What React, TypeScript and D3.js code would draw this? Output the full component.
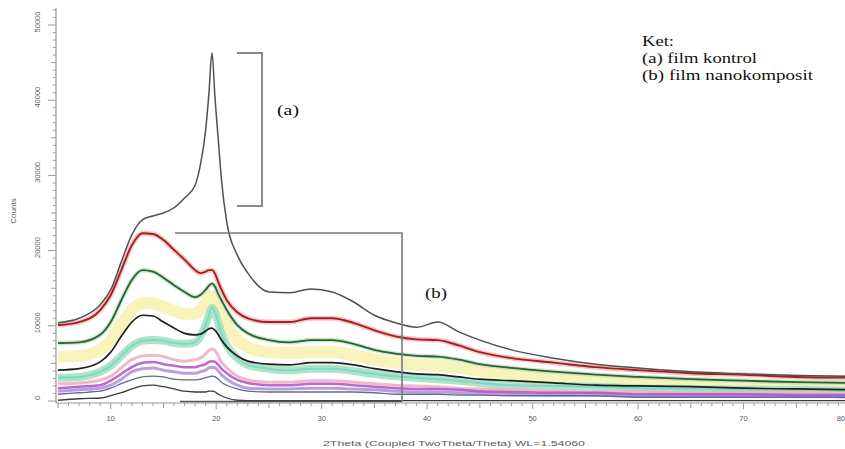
import React, { useEffect, useRef } from 'react';
import * as d3 from 'd3';

// 2theta sample positions (deg)
const twoTheta = [5, 7, 9, 10, 11, 12, 13, 14, 15, 16, 17, 18, 18.5, 19, 19.3, 19.6, 19.9, 20.2, 20.5, 21, 22, 23, 25, 27, 29, 31, 33, 35, 37, 39, 41, 43, 45, 48, 52, 56, 60, 65, 70, 75, 80];

// (a) film kontrol
const kontrol = [10400, 11000, 12800, 14800, 18500, 22100, 24100, 24600, 25000, 25700, 27000, 28700, 31400, 36000, 40700, 46300, 40000, 34700, 29400, 23800, 19400, 17000, 14500, 14400, 14900, 14500, 13200, 11400, 10400, 9800, 10500, 9200, 8100, 6800, 5700, 4900, 4400, 3900, 3600, 3400, 3300];

// (b) film nanokomposit series, top to bottom
const nanoRed = [10100, 10500, 12100, 14100, 17400, 20700, 22300, 22200, 21400, 20100, 18800, 17400, 17000, 17200, 17400, 17400, 16900, 15800, 14800, 13400, 11800, 11000, 10500, 10500, 11000, 11000, 10400, 9400, 8600, 8200, 8100, 7400, 6500, 5700, 5100, 4500, 4100, 3700, 3500, 3200, 3100];
const nanoGreen = [7700, 7800, 8800, 10500, 13400, 16100, 17400, 17200, 16400, 15400, 14500, 13800, 14100, 14800, 15300, 15600, 15200, 14200, 13400, 12100, 10100, 9000, 8100, 7800, 8100, 8100, 7600, 6800, 6300, 6000, 5900, 5500, 4900, 4400, 3900, 3500, 3200, 2900, 2700, 2500, 2400];
const nanoYellow = [5900, 6000, 6800, 8100, 10200, 12100, 13000, 13000, 12500, 12000, 11600, 11600, 12100, 13000, 13700, 14000, 13600, 12600, 11600, 10100, 8100, 7200, 6500, 6400, 6500, 6500, 6100, 5500, 5100, 4800, 4700, 4400, 4000, 3600, 3200, 2800, 2500, 2400, 2100, 2000, 2000];
const nanoBlack = [4100, 4300, 5200, 6500, 8600, 10500, 11400, 11300, 10500, 9700, 9000, 8800, 8900, 9300, 9600, 9700, 9400, 8800, 8100, 7200, 6000, 5300, 4900, 4800, 5100, 5100, 4800, 4300, 3900, 3600, 3500, 3200, 2900, 2700, 2400, 2100, 2000, 1900, 1700, 1600, 1500];
const nanoTeal = [3100, 3200, 3900, 4700, 6000, 7300, 8000, 8100, 8000, 7700, 7600, 7800, 8600, 10100, 11400, 12400, 11700, 10400, 9000, 7400, 5700, 4800, 4300, 4100, 4300, 4300, 4000, 3600, 3300, 3100, 2900, 2700, 2400, 2100, 2000, 1900, 1700, 1600, 1500, 1500, 1300];
const nanoPink = [2300, 2400, 2800, 3300, 4400, 5500, 6000, 6100, 5900, 5500, 5300, 5500, 5700, 6300, 6700, 6900, 6700, 6000, 5200, 4400, 3300, 2800, 2500, 2500, 2700, 2700, 2500, 2300, 2100, 2000, 1900, 1700, 1600, 1500, 1300, 1200, 1200, 1100, 1100, 1100, 900];
const nanoMagenta = [1700, 1900, 2100, 2700, 3600, 4500, 5100, 5200, 4900, 4700, 4500, 4500, 4700, 4900, 5200, 5300, 5200, 4800, 4300, 3700, 2800, 2400, 2100, 2100, 2300, 2300, 2100, 1900, 1700, 1600, 1600, 1500, 1300, 1200, 1100, 1100, 900, 900, 900, 800, 800];
const nanoViolet = [1300, 1500, 1700, 2100, 2900, 3900, 4300, 4400, 4100, 3900, 3700, 3700, 3900, 4100, 4400, 4500, 4400, 4000, 3500, 2900, 2100, 1700, 1600, 1600, 1700, 1700, 1600, 1500, 1300, 1200, 1200, 1100, 1100, 900, 800, 800, 700, 700, 700, 700, 500];
const nanoSlate = [900, 1100, 1300, 1700, 2300, 2800, 3200, 3300, 3200, 2900, 2800, 2800, 2900, 3100, 3200, 3300, 3200, 2900, 2500, 2100, 1600, 1300, 1200, 1200, 1200, 1200, 1200, 1100, 900, 900, 900, 800, 800, 700, 700, 700, 500, 500, 500, 500, 500];
const nanoBottom = [100, 300, 400, 700, 1100, 1600, 2000, 2100, 1900, 1600, 1300, 1200, 1200, 1200, 1300, 1300, 1200, 900, 700, 400, 100, 50, 50, 50, 50, 50, 50, 50, 50, 50, 50, 50, 50, 50, 50, 50, 50, 50, 50, 50, 50];

const xTickLabels = [10, 20, 30, 40, 50, 60, 70, 80];
const yTickLabels = [0, 10000, 20000, 30000, 40000, 50000];

// drawing order: pale bands first, dark lines last
const layers = [
  { values: nanoYellow, color: '#f6f2b4', width: 12, opacity: 0.9 },
  { values: nanoTeal, color: '#9fe0bc', width: 8, opacity: 0.85 },
  { values: nanoTeal, color: '#6fcfd0', width: 2, opacity: 0.7 },
  { values: nanoPink, color: '#eeb0c4', width: 3, opacity: 0.9 },
  { values: nanoViolet, color: '#b095dc', width: 3, opacity: 0.9 },
  { values: nanoMagenta, color: '#b24dc2', width: 2.5, opacity: 0.85 },
  { values: nanoSlate, color: '#62698c', width: 1.3, opacity: 1 },
  { values: nanoBottom, color: '#3a3a3a', width: 1.3, opacity: 1 },
  { values: nanoBlack, color: '#1e1e1e', width: 1.7, opacity: 1 },
  { values: nanoGreen, color: '#b4e0b4', width: 4.5, opacity: 0.7 },
  { values: nanoGreen, color: '#2e5f38', width: 1.8, opacity: 1 },
  { values: nanoRed, color: '#f2a8a8', width: 5, opacity: 0.65 },
  { values: nanoRed, color: '#a3201f', width: 1.9, opacity: 1 },
  { values: kontrol, color: '#505050', width: 1.5, opacity: 1 },
];

export default function App() {
  const ref = useRef<SVGSVGElement>(null);

  useEffect(() => {
    const svg = d3.select(ref.current);
    svg.selectAll('*').remove();

    const x = d3.scaleLinear().domain([5, 80]).range([58, 849]);
    const y = d3.scaleLinear().domain([0, 50000]).range([401, 25]);
    const axisColor = '#9a9a9a';
    const labelColor = '#5a5a5a';
    const sans = 'Liberation Sans, Arial, sans-serif';
    const serif = 'Liberation Serif, Times New Roman, serif';

    svg.append('defs').append('clipPath').attr('id', 'plot')
      .append('rect').attr('x', 56).attr('y', 0).attr('width', 789).attr('height', 404);

    // curves
    const line = d3.line<number>()
      .x((_, i) => x(twoTheta[i]))
      .y(d => y(d))
      .curve(d3.curveMonotoneX);

    const g = svg.append('g').attr('clip-path', 'url(#plot)');
    layers.forEach(l => {
      g.append('path')
        .attr('d', line(l.values))
        .attr('fill', 'none')
        .attr('stroke', l.color)
        .attr('stroke-width', l.width)
        .attr('stroke-opacity', l.opacity)
        .attr('stroke-linejoin', 'round');
    });

    // Y axis
    const yAxis = svg.append('g');
    yAxis.append('line').attr('x1', 56).attr('x2', 56).attr('y1', 8).attr('y2', 403)
      .attr('stroke', axisColor).attr('stroke-width', 1.2);
    d3.range(0, 52001, 1000).forEach(v => {
      const len = v % 10000 === 0 ? 8 : v % 5000 === 0 ? 5 : 3;
      yAxis.append('line').attr('x1', 56 - len).attr('x2', 56).attr('y1', y(v)).attr('y2', y(v))
        .attr('stroke', axisColor).attr('stroke-width', 1);
    });
    yTickLabels.forEach(v => {
      yAxis.append('text')
        .attr('transform', `translate(40,${y(v) - 3}) rotate(-90)`)
        .attr('text-anchor', 'middle')
        .attr('font-family', sans).attr('font-size', 7.5).attr('fill', labelColor)
        .text(v);
    });
    svg.append('text')
      .attr('transform', 'translate(16,211) rotate(-90)')
      .attr('text-anchor', 'middle')
      .attr('font-family', sans).attr('font-size', 8).attr('fill', labelColor)
      .text('Counts');

    // X axis
    const xAxis = svg.append('g');
    xAxis.append('line').attr('x1', 56).attr('x2', 845).attr('y1', 403).attr('y2', 403)
      .attr('stroke', axisColor).attr('stroke-width', 1.2);
    d3.range(5, 81, 1).forEach(v => {
      const len = v % 10 === 0 ? 6 : v % 5 === 0 ? 5 : 3;
      xAxis.append('line').attr('x1', x(v)).attr('x2', x(v)).attr('y1', 403).attr('y2', 403 + len)
        .attr('stroke', axisColor).attr('stroke-width', 1);
    });
    xTickLabels.forEach(v => {
      const edge = x(v) > 838;
      xAxis.append('text')
        .attr('x', edge ? 845 : x(v)).attr('y', 421)
        .attr('text-anchor', edge ? 'end' : 'middle')
        .attr('font-family', sans).attr('font-size', 7.5).attr('fill', labelColor)
        .text(v);
    });
    svg.append('text')
      .attr('x', 323).attr('y', 446)
      .attr('textLength', 262).attr('lengthAdjust', 'spacingAndGlyphs')
      .attr('font-family', sans).attr('font-size', 8).attr('fill', labelColor)
      .text('2Theta (Coupled TwoTheta/Theta) WL=1.54060');

    // annotations
    const ann = svg.append('g').attr('fill', 'none').attr('stroke', '#8a8a8a').attr('stroke-width', 2);
    ann.append('path').attr('d', 'M237,53 H262 V206 H237');
    ann.append('path').attr('d', 'M175,233 H402 V401').attr('stroke-width', 1.6).attr('stroke', '#7a7a7a');
    ann.append('path').attr('d', 'M180,401.5 H402').attr('stroke-width', 1.4).attr('stroke', '#555');

    const txt = (s: string, tx: number, ty: number, len: number) =>
      svg.append('text').attr('x', tx).attr('y', ty)
        .attr('textLength', len).attr('lengthAdjust', 'spacingAndGlyphs')
        .attr('font-family', serif).attr('font-size', 15).attr('fill', '#111')
        .text(s);
    txt('(a)', 277, 115, 22);
    txt('(b)', 425, 298, 22);
    txt('Ket:', 642, 46, 32);
    txt('(a) film kontrol', 642, 63, 115);
    txt('(b) film nanokomposit', 642, 80, 171);
  }, []);

  return (
    <svg ref={ref} width={845} height={449}
      style={{ position: 'absolute', left: 0, top: 0, background: '#fff' }} />
  );
}
